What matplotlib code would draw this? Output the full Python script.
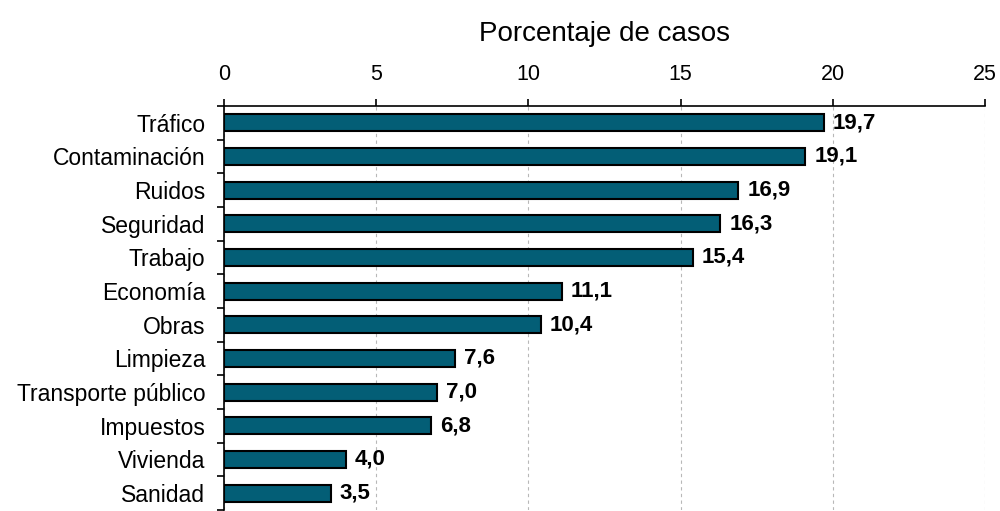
import matplotlib
matplotlib.use("Agg")
import matplotlib.pyplot as plt
import numpy as np

categories = ["Tráfico", "Contaminación", "Ruidos", "Seguridad", "Trabajo", "Economía",
              "Obras", "Limpieza", "Transporte público", "Impuestos", "Vivienda", "Sanidad"]
values = [19.7, 19.1, 16.9, 16.3, 15.4, 11.1, 10.4, 7.6, 7.0, 6.8, 4.0, 3.5]
xticks = [0, 5, 10, 15, 20, 25]

plt.rcParams['font.family'] = ['Liberation Sans', 'DejaVu Sans']

fig = plt.figure(figsize=(10, 5.11), dpi=100)
ax = fig.add_axes([0.224, 0.002, 0.761, 0.7906])

y = np.arange(len(categories))
ax.barh(y, values, height=0.5, color="#035e76", edgecolor="black", linewidth=1.5, zorder=3)
for yi, v in zip(y, values):
    ax.text(v + 0.3, yi, f"{v:.1f}".replace(".", ","), va="center", ha="left",
            fontsize=16, fontweight="bold", zorder=4)

ax.set_ylim(len(categories) - 0.5, -0.5)
ax.set_xlim(0, 25)
ax.set_yticks(y)
ax.set_yticklabels(categories, fontsize=16.5)
ax.set_yticks(np.arange(-0.5, len(categories), 1), minor=True)
ax.tick_params(axis="y", which="major", length=0, pad=13.5)
ax.tick_params(axis="y", which="minor", length=5, width=1.2, direction="out")

ax.xaxis.tick_top()
ax.xaxis.set_label_position("top")
ax.set_xticks(xticks)
ax.set_xticklabels([str(t) for t in xticks], fontsize=15.5)
ax.tick_params(axis="x", length=5, width=1.2, direction="out", pad=10)
ax.set_xlabel("Porcentaje de casos", fontsize=20, labelpad=17)

ax.grid(axis="x", color="#b8b8b8", linestyle=(0, (3, 3)), linewidth=0.8, zorder=0)
for s in ["right", "bottom"]:
    ax.spines[s].set_visible(False)
for s in ["top", "left"]:
    ax.spines[s].set_linewidth(1.2)

fig.savefig("out.png", dpi=100)
